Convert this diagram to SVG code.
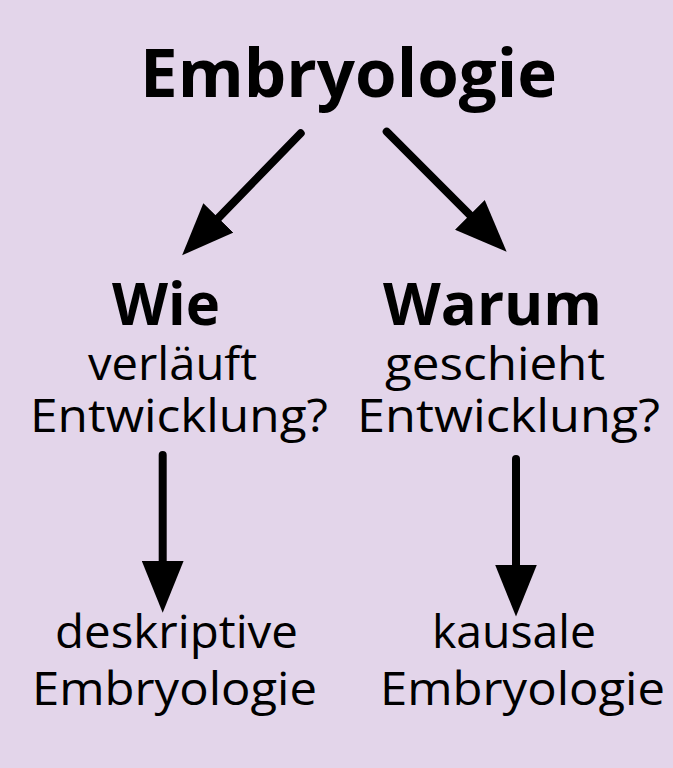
<svg xmlns="http://www.w3.org/2000/svg" width="673" height="768" viewBox="0 0 673 768">
  <defs>
    <style>
      .bold { font-family: "Open Sans", "Noto Sans", sans-serif; font-weight: 700; fill: #000; text-anchor: middle; }
      .reg { font-family: "Open Sans", "Noto Sans", sans-serif; font-weight: 400; font-size: 45px; fill: #000; text-anchor: middle; }
      .conn { stroke: #000; stroke-width: 8; stroke-linecap: round; fill: none; }
    </style>
    <marker id="head" viewBox="0 -21 52 42" refX="2" refY="0" markerWidth="52" markerHeight="42" markerUnits="userSpaceOnUse" orient="auto">
      <path d="M0,-21 L52,0 L0,21 Z" fill="#000"/>
    </marker>
  </defs>
  <rect x="0" y="0" width="673" height="768" fill="#E3D5EA"/>

  <g id="root">
    <text class="bold" x="348.5" y="97" font-size="66" textLength="417" lengthAdjust="spacingAndGlyphs">Embryologie</text>
  </g>

  <g id="wie">
    <text class="bold" x="166" y="325" font-size="59" textLength="108" lengthAdjust="spacingAndGlyphs">Wie</text>
    <text class="reg" x="172.5" y="380" textLength="169" lengthAdjust="spacingAndGlyphs">verläuft</text>
    <text class="reg" x="179" y="432" textLength="298" lengthAdjust="spacingAndGlyphs">Entwicklung?</text>
  </g>

  <g id="warum">
    <text class="bold" x="492.5" y="325" font-size="59" textLength="219" lengthAdjust="spacingAndGlyphs">Warum</text>
    <text class="reg" x="495" y="380" textLength="220" lengthAdjust="spacingAndGlyphs">geschieht</text>
    <text class="reg" x="508.5" y="432" textLength="303" lengthAdjust="spacingAndGlyphs">Entwicklung?</text>
  </g>

  <g id="deskriptiv">
    <text class="reg" x="176.5" y="648" textLength="243" lengthAdjust="spacingAndGlyphs">deskriptive</text>
    <text class="reg" x="174.5" y="705" textLength="285" lengthAdjust="spacingAndGlyphs">Embryologie</text>
  </g>

  <g id="kausal">
    <text class="reg" x="514" y="648" textLength="164" lengthAdjust="spacingAndGlyphs">kausale</text>
    <text class="reg" x="522.5" y="705" textLength="285" lengthAdjust="spacingAndGlyphs">Embryologie</text>
  </g>

  <g id="connectors">
    <line class="conn" x1="300.7" y1="133.3" x2="217" y2="219.4" marker-end="url(#head)"/>
    <line class="conn" x1="386.7" y1="131.7" x2="471.3" y2="216.3" marker-end="url(#head)"/>
    <line class="conn" x1="162.7" y1="455" x2="162.7" y2="562.7" marker-end="url(#head)"/>
    <line class="conn" x1="516" y1="459" x2="516" y2="566.5" marker-end="url(#head)"/>
  </g>
</svg>
